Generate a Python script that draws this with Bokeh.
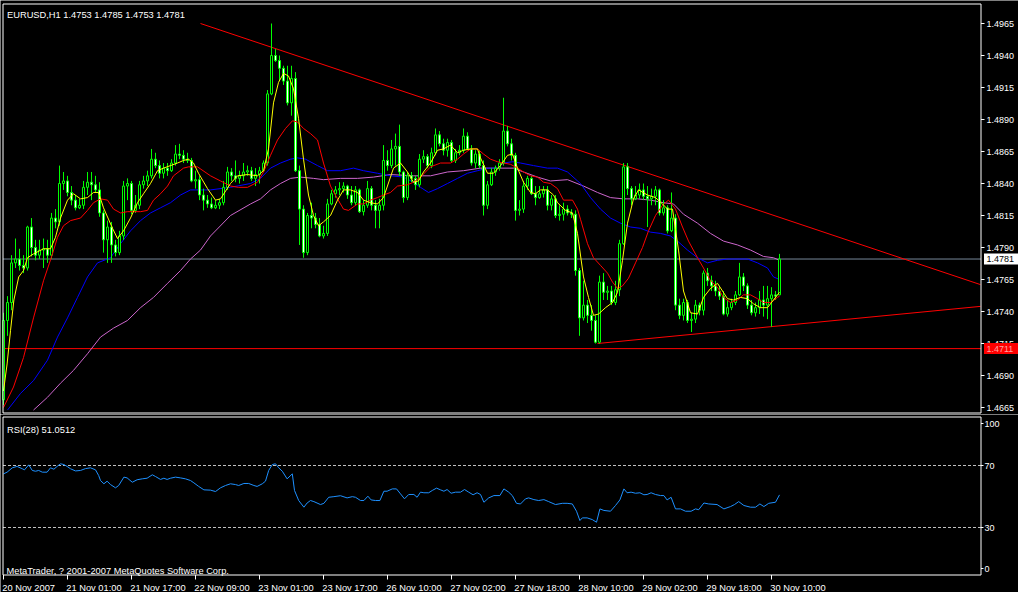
from bokeh.plotting import figure
from bokeh.models import Range1d, ColumnDataSource
from bokeh.core.properties import value
from bokeh.layouts import column
from bokeh.embed import file_html
from bokeh.resources import INLINE

# ---------------- data ----------------
symbol_title = "EURUSD,H1  1.4753 1.4785 1.4753 1.4781"
rsi_title = "RSI(28) 51.0512"
copyright_text = "MetaTrader, ? 2001-2007 MetaQuotes Software Corp."

opens = [
    1.4671, 1.4733, 1.4747, 1.4778, 1.4781, 1.4776, 1.4774, 1.4806, 1.4790, 1.4784,
    1.4788, 1.4789, 1.4784, 1.4813, 1.4810, 1.4840, 1.4842, 1.4833, 1.4827, 1.4821,
    1.4823, 1.4837, 1.4841, 1.4839, 1.4835, 1.4817, 1.4796, 1.4806, 1.4792, 1.4786,
    1.4799, 1.4838, 1.4840, 1.4819, 1.4823, 1.4839, 1.4842, 1.4846, 1.4859, 1.4854,
    1.4848, 1.4852, 1.4850, 1.4856, 1.4863, 1.4862, 1.4859, 1.4858, 1.4842, 1.4843,
    1.4831, 1.4827, 1.4824, 1.4821, 1.4823, 1.4825, 1.4837, 1.4849, 1.4846, 1.4844,
    1.4846, 1.4849, 1.4850, 1.4844, 1.4847, 1.4850, 1.4856, 1.4910, 1.4940, 1.4936,
    1.4930, 1.4920, 1.4903, 1.4922, 1.4850, 1.4820, 1.4786, 1.4815, 1.4813, 1.4808,
    1.4799, 1.4801, 1.4824, 1.4832, 1.4835, 1.4836, 1.4838, 1.4831, 1.4825, 1.4835,
    1.4818, 1.4823, 1.4836, 1.4823, 1.4819, 1.4823, 1.4858, 1.4854, 1.4867, 1.4869,
    1.4849, 1.4829, 1.4846, 1.4844, 1.4839, 1.4859, 1.4861, 1.4854, 1.4864, 1.4878,
    1.4871, 1.4866, 1.4872, 1.4858, 1.4864, 1.4866, 1.4877, 1.4867, 1.4856, 1.4863,
    1.4854, 1.4823, 1.4839, 1.4849, 1.4852, 1.4856, 1.4881, 1.4871, 1.4862, 1.4819,
    1.4820, 1.4838, 1.4844, 1.4832, 1.4829, 1.4832, 1.4835, 1.4823, 1.4828, 1.4815,
    1.4816, 1.4820, 1.4817, 1.4816, 1.4772, 1.4735, 1.4745, 1.4737, 1.4733, 1.4716,
    1.4763, 1.4755, 1.4756, 1.4747, 1.4757, 1.4793, 1.4853, 1.4836, 1.4828, 1.4831,
    1.4835, 1.4830, 1.4828, 1.4830, 1.4835, 1.4817, 1.4821, 1.4803, 1.4813, 1.4745,
    1.4737, 1.4747, 1.4733, 1.4734, 1.4745, 1.4741, 1.4770, 1.4764, 1.4760, 1.4756,
    1.4752, 1.4738, 1.4743, 1.4747, 1.4753, 1.4767, 1.4760, 1.4745, 1.4739, 1.4743,
    1.4749, 1.4745, 1.4750, 1.4753, 1.4753]

highs = [
    1.4739, 1.4752, 1.4784, 1.4797, 1.4789, 1.4784, 1.4807, 1.4813, 1.4796, 1.4796,
    1.4797, 1.4796, 1.4817, 1.4820, 1.4854, 1.4849, 1.4846, 1.4838, 1.4831, 1.4828,
    1.4842, 1.4849, 1.4849, 1.4846, 1.4841, 1.4819, 1.4811, 1.4810, 1.4796, 1.4803,
    1.4842, 1.4844, 1.4842, 1.4831, 1.4842, 1.4846, 1.4850, 1.4867, 1.4864, 1.4858,
    1.4856, 1.4856, 1.4859, 1.4870, 1.4871, 1.4866, 1.4864, 1.4860, 1.4850, 1.4846,
    1.4836, 1.4831, 1.4829, 1.4827, 1.4828, 1.4842, 1.4853, 1.4852, 1.4858, 1.4850,
    1.4856, 1.4854, 1.4853, 1.4852, 1.4853, 1.4858, 1.4913, 1.4965, 1.4945, 1.4940,
    1.4932, 1.4932, 1.4932, 1.4927, 1.4854, 1.4823, 1.4817, 1.4825, 1.4817, 1.4813,
    1.4807, 1.4828, 1.4835, 1.4838, 1.4841, 1.4841, 1.4839, 1.4838, 1.4838, 1.4836,
    1.4827, 1.4842, 1.4838, 1.4827, 1.4828, 1.4870, 1.4866, 1.4874, 1.4879, 1.4886,
    1.4850, 1.4849, 1.4849, 1.4846, 1.4863, 1.4866, 1.4863, 1.4868, 1.4883, 1.4881,
    1.4875, 1.4875, 1.4874, 1.4867, 1.4870, 1.4883, 1.4880, 1.4870, 1.4866, 1.4866,
    1.4858, 1.4842, 1.4852, 1.4854, 1.4859, 1.4907, 1.4885, 1.4875, 1.4864, 1.4827,
    1.4842, 1.4846, 1.4846, 1.4838, 1.4838, 1.4838, 1.4838, 1.4831, 1.4831, 1.4823,
    1.4825, 1.4823, 1.4820, 1.4819, 1.4774, 1.4764, 1.4749, 1.4745, 1.4737, 1.4768,
    1.4770, 1.4760, 1.4760, 1.4764, 1.4796, 1.4856, 1.4856, 1.4838, 1.4838, 1.4840,
    1.4840, 1.4838, 1.4836, 1.4838, 1.4836, 1.4827, 1.4823, 1.4833, 1.4816, 1.4750,
    1.4750, 1.4749, 1.4739, 1.4749, 1.4747, 1.4772, 1.4774, 1.4768, 1.4764, 1.4760,
    1.4756, 1.4749, 1.4750, 1.4756, 1.4778, 1.4770, 1.4762, 1.4749, 1.4747, 1.4756,
    1.4760, 1.4760, 1.4759, 1.4756, 1.4785]

lows = [
    1.4667, 1.4721, 1.4741, 1.4774, 1.4772, 1.4770, 1.4772, 1.4783, 1.4780, 1.4781,
    1.4774, 1.4778, 1.4781, 1.4805, 1.4807, 1.4835, 1.4830, 1.4823, 1.4819, 1.4820,
    1.4820, 1.4831, 1.4827, 1.4833, 1.4814, 1.4786, 1.4778, 1.4778, 1.4783, 1.4784,
    1.4796, 1.4827, 1.4816, 1.4817, 1.4820, 1.4836, 1.4838, 1.4844, 1.4852, 1.4844,
    1.4844, 1.4846, 1.4849, 1.4854, 1.4859, 1.4856, 1.4856, 1.4841, 1.4836, 1.4827,
    1.4819, 1.4821, 1.4820, 1.4820, 1.4820, 1.4823, 1.4835, 1.4842, 1.4841, 1.4840,
    1.4842, 1.4846, 1.4842, 1.4838, 1.4840, 1.4849, 1.4854, 1.4909, 1.4935, 1.4920,
    1.4917, 1.4901, 1.4893, 1.4849, 1.4792, 1.4782, 1.4784, 1.4805, 1.4805, 1.4798,
    1.4797, 1.4799, 1.4823, 1.4829, 1.4831, 1.4833, 1.4828, 1.4823, 1.4823, 1.4817,
    1.4815, 1.4821, 1.4819, 1.4805, 1.4805, 1.4819, 1.4850, 1.4852, 1.4854, 1.4846,
    1.4825, 1.4827, 1.4841, 1.4835, 1.4837, 1.4856, 1.4852, 1.4852, 1.4862, 1.4869,
    1.4862, 1.4861, 1.4856, 1.4856, 1.4862, 1.4864, 1.4866, 1.4854, 1.4852, 1.4852,
    1.4815, 1.4820, 1.4838, 1.4846, 1.4850, 1.4854, 1.4869, 1.4858, 1.4811, 1.4815,
    1.4817, 1.4835, 1.4831, 1.4823, 1.4828, 1.4829, 1.4819, 1.4819, 1.4813, 1.4811,
    1.4811, 1.4815, 1.4813, 1.4768, 1.4721, 1.4733, 1.4731, 1.4725, 1.4715, 1.4715,
    1.4749, 1.4749, 1.4745, 1.4745, 1.4752, 1.4792, 1.4831, 1.4823, 1.4827, 1.4828,
    1.4827, 1.4806, 1.4823, 1.4823, 1.4815, 1.4815, 1.4801, 1.4802, 1.4741, 1.4734,
    1.4733, 1.4731, 1.4724, 1.4731, 1.4737, 1.4737, 1.4760, 1.4756, 1.4752, 1.4749,
    1.4737, 1.4736, 1.4741, 1.4745, 1.4752, 1.4756, 1.4742, 1.4737, 1.4736, 1.4738,
    1.4736, 1.4734, 1.4728, 1.4749, 1.4753]

closes = [
    1.4733, 1.4747, 1.4778, 1.4781, 1.4776, 1.4774, 1.4806, 1.4790, 1.4784, 1.4788,
    1.4789, 1.4784, 1.4813, 1.4810, 1.4840, 1.4842, 1.4833, 1.4827, 1.4821, 1.4823,
    1.4837, 1.4841, 1.4839, 1.4835, 1.4817, 1.4796, 1.4806, 1.4792, 1.4786, 1.4799,
    1.4838, 1.4840, 1.4819, 1.4823, 1.4839, 1.4842, 1.4846, 1.4859, 1.4854, 1.4848,
    1.4852, 1.4850, 1.4856, 1.4863, 1.4862, 1.4859, 1.4858, 1.4842, 1.4843, 1.4831,
    1.4827, 1.4824, 1.4821, 1.4823, 1.4825, 1.4837, 1.4849, 1.4846, 1.4844, 1.4846,
    1.4849, 1.4850, 1.4844, 1.4847, 1.4850, 1.4856, 1.4910, 1.4940, 1.4936, 1.4930,
    1.4920, 1.4903, 1.4922, 1.4850, 1.4820, 1.4786, 1.4815, 1.4813, 1.4808, 1.4799,
    1.4801, 1.4824, 1.4832, 1.4835, 1.4836, 1.4838, 1.4831, 1.4825, 1.4835, 1.4818,
    1.4823, 1.4836, 1.4823, 1.4819, 1.4823, 1.4858, 1.4854, 1.4867, 1.4869, 1.4849,
    1.4829, 1.4846, 1.4844, 1.4839, 1.4859, 1.4861, 1.4854, 1.4864, 1.4878, 1.4871,
    1.4866, 1.4872, 1.4858, 1.4864, 1.4866, 1.4877, 1.4867, 1.4856, 1.4863, 1.4854,
    1.4823, 1.4839, 1.4849, 1.4852, 1.4856, 1.4881, 1.4871, 1.4862, 1.4819, 1.4820,
    1.4838, 1.4844, 1.4832, 1.4829, 1.4832, 1.4835, 1.4823, 1.4828, 1.4815, 1.4816,
    1.4820, 1.4817, 1.4816, 1.4772, 1.4735, 1.4745, 1.4737, 1.4733, 1.4716, 1.4763,
    1.4755, 1.4756, 1.4747, 1.4757, 1.4793, 1.4853, 1.4836, 1.4828, 1.4831, 1.4835,
    1.4830, 1.4828, 1.4830, 1.4835, 1.4817, 1.4821, 1.4803, 1.4813, 1.4745, 1.4737,
    1.4747, 1.4733, 1.4734, 1.4745, 1.4741, 1.4770, 1.4764, 1.4760, 1.4756, 1.4752,
    1.4738, 1.4743, 1.4747, 1.4753, 1.4767, 1.4760, 1.4745, 1.4739, 1.4743, 1.4749,
    1.4745, 1.4750, 1.4753, 1.4752, 1.4781]

# moving averages (bar index, price)
ma_yellow_x = [0, 0.9, 1.75, 2.6, 3.8, 5, 6, 7.5, 10, 11.75, 13, 14.25, 16, 17.5, 19.25, 21, 22.5, 23.75, 25,
               27.25, 28.5, 30, 31.75, 33.5, 35, 36.75, 38.5, 40, 41.75, 43.5, 45, 46.25, 47.5, 48.75, 51, 53,
               54.25, 56.75, 58.5, 61, 63.5, 65, 66.25, 67.5, 68.75, 70, 71.25, 72.5, 73.75, 75, 76.25, 77.5,
               78.75, 80, 81.75, 83.5, 85, 86.75, 88.5, 90, 91.75, 93.5, 95, 97.5, 99.25, 101, 102.5, 103.75,
               105, 106.75, 108.5, 110, 111.75, 113.5, 115, 116.75, 118.5, 119.25, 121, 122.5, 124.25, 126,
               127.25, 128.5, 130, 131.75, 133, 134.25, 136, 137.5, 138.5, 140.5, 142.25, 143.5, 145, 146.25,
               147.5, 148.75, 150.5, 152.25, 153.5, 154.75, 156, 157.5, 158.75, 161, 163, 164.75, 166, 167.25,
               168.75, 170, 171.75, 173.5, 175, 176.75, 178.5, 179.75, 181, 182.5, 184.25, 186, 187.5, 189.25,
               191, 192.5, 194]
ma_yellow_y = [1.4678, 1.4699, 1.4725, 1.4749, 1.4767, 1.4772, 1.4782, 1.4785, 1.4789, 1.4789, 1.4798, 1.4813,
               1.4827, 1.4832, 1.4828, 1.4829, 1.4833, 1.4833, 1.4821, 1.4805, 1.4797, 1.4803, 1.4813, 1.4825,
               1.4832, 1.4840, 1.4850, 1.4852, 1.4854, 1.4856, 1.4858, 1.4859, 1.4856, 1.4848, 1.4836, 1.4827,
               1.4828, 1.4840, 1.4846, 1.4847, 1.4846, 1.4850, 1.4867, 1.4903, 1.4919, 1.4926, 1.4924, 1.4914,
               1.4891, 1.4859, 1.4831, 1.4815, 1.4807, 1.4810, 1.4815, 1.4827, 1.4835, 1.4835, 1.4833, 1.4827,
               1.4825, 1.4824, 1.4829, 1.4852, 1.4856, 1.4849, 1.4841, 1.4842, 1.4849, 1.4856, 1.4866, 1.4867,
               1.4870, 1.4864, 1.4866, 1.4867, 1.4867, 1.4860, 1.4848, 1.4848, 1.4854, 1.4862, 1.4863, 1.4852,
               1.4841, 1.4833, 1.4832, 1.4835, 1.4835, 1.4831, 1.4825, 1.4819, 1.4817, 1.4801, 1.4767, 1.4751,
               1.4737, 1.4738, 1.4743, 1.4747, 1.4755, 1.4780, 1.4809, 1.4828, 1.4835, 1.4831, 1.4829, 1.4824,
               1.4820, 1.4820, 1.4788, 1.4756, 1.4739, 1.4738, 1.4751, 1.4758, 1.4762, 1.4756, 1.4750, 1.4749,
               1.4751, 1.4750, 1.4746, 1.4743, 1.4743, 1.4749, 1.4755]

ma_red_x = [0, 2.5, 5, 7.5, 10, 12.25, 13.5, 15, 16.75, 19.25, 21, 22.5, 24.25, 26, 27.5, 29.25, 31, 34.25, 36,
            37.5, 39.25, 41, 42.5, 45, 46.25, 48.5, 51.75, 54.25, 56.75, 58.75, 61, 63.5, 65, 66.75, 68.5, 70.5,
            72.25, 73.5, 75, 76.75, 78.5, 80, 81.75, 83.5, 85, 86.25, 88.5, 90, 91.75, 93.5, 95, 96.75, 98.5, 101,
            102.5, 104.25, 106.75, 109.25, 111.75, 113.5, 115, 116.75, 118.5, 120, 121.75, 123.5, 125, 126.75,
            128.5, 130, 131.75, 133.5, 135, 136.75, 138.5, 140, 142.25, 143.5, 144.25, 146, 147.5, 149.25, 151,
            152.25, 153.5, 154.75, 156.25, 158, 159.75, 161.25, 163, 164.75, 166.25, 168, 169.75, 171.25, 173.5,
            175, 176.75, 178.5, 180, 181.75, 183.5, 185, 186.75, 188.5, 190, 191.75, 193.5, 194]
ma_red_y = [1.4665, 1.4681, 1.4704, 1.4735, 1.4764, 1.4785, 1.4798, 1.4807, 1.4811, 1.4813, 1.4819, 1.4825,
            1.4828, 1.4827, 1.4820, 1.4817, 1.4818, 1.4818, 1.4819, 1.4827, 1.4832, 1.4838, 1.4846, 1.4852,
            1.4853, 1.4853, 1.4846, 1.4842, 1.4838, 1.4837, 1.4837, 1.4841, 1.4849, 1.4862, 1.4874, 1.4883,
            1.4889, 1.4888, 1.4883, 1.4879, 1.4874, 1.4856, 1.4838, 1.4828, 1.4820, 1.4819, 1.4824, 1.4824,
            1.4827, 1.4829, 1.4831, 1.4833, 1.4838, 1.4839, 1.4841, 1.4845, 1.4853, 1.4856, 1.4856, 1.4859,
            1.4863, 1.4867, 1.4867, 1.4863, 1.4859, 1.4857, 1.4856, 1.4855, 1.4852, 1.4849, 1.4846, 1.4845,
            1.4841, 1.4840, 1.4836, 1.4827, 1.4827, 1.4820, 1.4812, 1.4793, 1.4782, 1.4776, 1.4770, 1.4763,
            1.4758, 1.4760, 1.4766, 1.4778, 1.4790, 1.4803, 1.4815, 1.4823, 1.4827, 1.4820, 1.4806, 1.4795,
            1.4782, 1.4774, 1.4764, 1.4759, 1.4751, 1.4747, 1.4749, 1.4753, 1.4753, 1.4750, 1.4747, 1.4747,
            1.4751, 1.4752]

ma_blue_x = [1, 4.25, 7.5, 11, 13.5, 16, 18.5, 21, 23.5, 26.75, 29.25, 31.75, 34.25, 36.75, 39.25, 41.75, 44.25,
             46.75, 49.25, 51.75, 56.75, 61.75, 64.25, 66.75, 69.25, 71.75, 73.5, 75.5, 78.5, 81, 84.25, 87.5, 90,
             93.5, 96.75, 100, 102.5, 104.25, 106.25, 108.5, 111, 113.5, 116, 118.5, 121, 123.5, 125, 127.25,
             129.25, 132.5, 136, 138.5, 141, 143.5, 144.25, 146.75, 149.25, 151.75, 154.25, 156.75, 159.25,
             161.75, 164.25, 166.75, 168.5, 171, 173.5, 176, 178.5, 181, 183.5, 186, 188.5, 191, 192.5, 194]
ma_blue_y = [1.4663, 1.4676, 1.4686, 1.4702, 1.4720, 1.4735, 1.4751, 1.4767, 1.4778, 1.4782, 1.4793, 1.4803,
             1.4811, 1.4817, 1.4821, 1.4825, 1.4831, 1.4835, 1.4835, 1.4835, 1.4837, 1.4840, 1.4844, 1.4852,
             1.4856, 1.4859, 1.4860, 1.4859, 1.4854, 1.4850, 1.4850, 1.4852, 1.4850, 1.4848, 1.4846, 1.4845,
             1.4841, 1.4837, 1.4833, 1.4836, 1.4840, 1.4844, 1.4848, 1.4850, 1.4852, 1.4852, 1.4856, 1.4857,
             1.4856, 1.4854, 1.4852, 1.4852, 1.4849, 1.4842, 1.4840, 1.4829, 1.4820, 1.4813, 1.4809, 1.4806,
             1.4805, 1.4802, 1.4801, 1.4799, 1.4795, 1.4788, 1.4782, 1.4778, 1.4780, 1.4781, 1.4781, 1.4781,
             1.4778, 1.4774, 1.4767, 1.4765]

ma_violet_x = [7.5, 11, 14.25, 17.5, 21, 24.25, 27.5, 31, 34.25, 37.5, 41, 44.25, 46.75, 49.25, 51.75, 56.75,
               61.75, 64.25, 66.75, 69.25, 71.75, 74.25, 77.5, 80, 84.25, 88.5, 92.5, 96.75, 102.5, 106.75, 111,
               115, 119.25, 123.5, 127.5, 130, 133.5, 136.75, 141, 145, 148.5, 151.75, 155, 158.5, 161.75, 165,
               167.5, 170, 173.5, 176.75, 180, 183.5, 186.75, 190, 192.5, 194]
ma_violet_y = [1.4663, 1.4673, 1.4684, 1.4694, 1.4707, 1.4720, 1.4727, 1.4733, 1.4743, 1.4751, 1.4762, 1.4772,
               1.4781, 1.4788, 1.4799, 1.4815, 1.4824, 1.4828, 1.4835, 1.4840, 1.4844, 1.4845, 1.4844, 1.4843,
               1.4844, 1.4844, 1.4845, 1.4847, 1.4846, 1.4846, 1.4849, 1.4850, 1.4852, 1.4852, 1.4852, 1.4849,
               1.4845, 1.4842, 1.4843, 1.4838, 1.4833, 1.4829, 1.4828, 1.4828, 1.4827, 1.4825, 1.4824, 1.4816,
               1.4809, 1.4801, 1.4795, 1.4792, 1.4788, 1.4783, 1.4782, 1.4780]

rsi_x = [0, 0.9, 2.2, 3.4, 4.7, 5.25, 6.3, 7.2, 8, 8.8, 9.7, 10.9, 11.75, 12.6, 13.4, 14.25, 15.1, 15.9, 16.75,
         18, 19.25, 20.5, 21.75, 23, 23.8, 24.25, 25.1, 25.9, 26.75, 28, 28.8, 30.1, 30.9, 32.2, 33.4, 34.7,
         35.9, 37.2, 38, 39.25, 40.1, 40.9, 41.75, 43, 44.25, 45.5, 46.75, 47.6, 48.8, 50.1, 51.75, 53, 54.25,
         55.5, 56.75, 58, 58.8, 60.1, 61.3, 62.6, 63.4, 64.7, 65.5, 66.3, 67.2, 68, 68.8, 69.7, 70.9, 72.2,
         72.75, 73.8, 75.1, 75.9, 76.75, 77.6, 79.25, 80.1, 81.3, 82.6, 84.25, 85.9, 87.2, 88, 89.25, 90.1,
         91.1, 91.9, 93, 94.1, 95.1, 95.9, 97.2, 98.25, 99.25, 100.25, 101.3, 102.6, 103.4, 104.25, 105.1,
         106.3, 107.2, 108.25, 109.25, 110.1, 110.9, 111.9, 113, 114.25, 115.25, 116.3, 117.4, 118.4, 119.25,
         120.1, 121.3, 122.6, 124.1, 125.1, 126.3, 127.2, 128.25, 129.25, 130.5, 131.3, 132.6, 133.8, 135.1,
         136.3, 138, 139.7, 140.9, 142.2, 143.25, 144.1, 144.7, 145.9, 147.2, 148.25, 149.1, 150.1, 151.75,
         153, 154.1, 155.1, 155.9, 156.9, 158, 159.1, 160.1, 160.9, 161.9, 163, 164.25, 165.1, 165.9, 166.9,
         168, 169.25, 170.5, 171.9, 173, 173.8, 175.1, 176.3, 178.4, 180.1, 181.75, 182.75, 183.8, 185.1,
         186.75, 188, 189.1, 190.1, 191.3, 193, 194]
rsi_y = [64.6, 65.7, 68.5, 69.4, 67.9, 67.2, 70.4, 66.8, 66.3, 66.8, 65.7, 65.7, 68.5, 67.6, 69.4, 71.1, 70.6,
         69.4, 67.9, 66.5, 66.8, 68.0, 68.5, 67.2, 63.5, 60.3, 58.2, 59.9, 57.7, 55.6, 57.1, 62.5, 62.0, 59.2,
         60.8, 61.4, 61.8, 64.0, 62.9, 61.0, 61.8, 61.0, 61.8, 62.5, 62.0, 61.4, 60.3, 58.8, 56.5, 54.3, 54.1,
         53.2, 55.6, 57.1, 58.2, 57.7, 57.1, 58.4, 58.4, 57.1, 56.5, 58.2, 59.9, 66.8, 70.6, 71.1, 68.5, 66.3,
         61.4, 64.6, 53.9, 47.4, 43.1, 45.8, 47.4, 46.7, 44.8, 45.6, 49.5, 49.9, 50.5, 49.1, 49.9, 49.5, 47.4,
         47.4, 50.2, 47.8, 47.4, 47.4, 53.4, 53.4, 54.9, 54.9, 51.7, 48.5, 51.3, 51.3, 49.5, 52.8, 52.4, 52.4,
         53.9, 55.4, 54.3, 53.4, 54.5, 52.1, 52.8, 52.8, 54.5, 52.8, 51.1, 52.4, 51.3, 46.3, 49.1, 50.6, 50.6,
         54.9, 52.8, 50.6, 45.6, 45.2, 48.5, 49.1, 48.0, 47.4, 48.0, 46.7, 44.8, 45.6, 45.6, 45.2, 40.5, 34.5,
         36.2, 36.2, 35.1, 33.4, 42.0, 41.0, 40.5, 44.2, 47.8, 54.9, 52.4, 52.8, 52.1, 52.4, 51.1, 51.3, 52.4,
         51.3, 50.6, 50.6, 47.8, 49.5, 42.0, 42.0, 40.5, 40.5, 42.0, 41.5, 45.8, 45.2, 44.8, 42.0, 43.5, 44.8,
         46.7, 44.2, 43.1, 43.1, 45.2, 43.5, 45.6, 46.3, 51.05]

price_ticks = [1.4665, 1.4690, 1.4715, 1.4740, 1.4765, 1.4790, 1.4815, 1.4840, 1.4865, 1.4890, 1.4915,
               1.4940, 1.4965]
rsi_ticks = [100, 70, 30, 0]
rsi_levels = [70, 30]
time_tick_bars = [0, 16, 32, 48, 64, 80, 96, 112, 128, 144, 160, 176, 192]
time_tick_labels = ["20 Nov 2007", "21 Nov 01:00", "21 Nov 17:00", "22 Nov 09:00", "23 Nov 01:00",
                    "23 Nov 17:00", "26 Nov 10:00", "27 Nov 02:00", "27 Nov 18:00", "28 Nov 10:00",
                    "29 Nov 02:00", "29 Nov 18:00", "30 Nov 10:00"]

# drawn objects (bar index, price)
trend_upper = ([49.25, 244.25], [1.4965, 1.4761])
trend_lower = ([148.5, 244.25], [1.4715, 1.4744])
support_level = 1.4711
bid_level = 1.4781

# ---------------- layout helpers (pixel -> data) ----------------
W, H1, H2 = 1018, 414, 178
def xi(px):   # horizontal pixel -> bar index
    return (px - 3) / 4.0
def yp(py):   # vertical pixel -> price (main panel)
    return 1.4965 - (py - 23) / 12800.0
def yr(py):   # vertical pixel -> RSI value (indicator panel)
    return (573.5 - py) / 1.55

FONT = value("Liberation Sans")
FS = value("9.3px")
FS_NUM = value("9px")
WHITE = "white"
xr = Range1d(xi(0), xi(W))

def base_fig(h, yrange):
    f = figure(width=W, height=h, x_range=xr, y_range=yrange, output_backend="svg",
               toolbar_location=None, x_axis_location=None, y_axis_location=None,
               min_border=0, min_border_left=0, min_border_right=0, min_border_top=0,
               min_border_bottom=0, background_fill_color="black", border_fill_color="black",
               outline_line_color=None)
    f.grid.visible = False
    return f

def frame(f, conv, x0, x1, y0, y1):
    f.segment(x0=[xi(x0), xi(x0), xi(x0), xi(x1)], y0=[conv(y0), conv(y1), conv(y0), conv(y0)],
              x1=[xi(x1), xi(x1), xi(x0), xi(x1)], y1=[conv(y0), conv(y1), conv(y1), conv(y1)],
              line_color=WHITE, line_width=1)

# ---------------- main panel ----------------
p = base_fig(H1, Range1d(yp(H1), yp(0)))

n = min(len(opens), len(highs), len(lows), len(closes))
bull = [closes[k] >= opens[k] for k in range(n)]
src = ColumnDataSource(dict(
    i=list(range(n)), h=highs[:n], l=lows[:n],
    top=[max(opens[k], closes[k]) for k in range(n)],
    bot=[min(opens[k], closes[k]) for k in range(n)],
    fill=["black" if b else "white" for b in bull],
))

xl, xrgt = xi(2.5), xi(980.5)
p.line([xl, xrgt], [bid_level, bid_level], line_color="#778899", line_width=1)
p.line([xl, xrgt], [support_level, support_level], line_color="#FF0000", line_width=1)
p.line(trend_upper[0], trend_upper[1], line_color="#FF0000", line_width=1)
p.line(trend_lower[0], trend_lower[1], line_color="#FF0000", line_width=1)

p.line(ma_violet_x, ma_violet_y, line_color="#CC66CC", line_width=1)
p.line(ma_blue_x, ma_blue_y, line_color="#0000FF", line_width=1)

p.segment(x0="i", y0="l", x1="i", y1="h", source=src, line_color="#00FF00", line_width=1)
p.vbar(x="i", width=0.5, top="top", bottom="bot", source=src, fill_color="fill",
       line_color="#00FF00", line_width=1)

p.line(ma_red_x, ma_red_y, line_color="#FF0000", line_width=1)
p.line(ma_yellow_x, ma_yellow_y, line_color="#FFFF00", line_width=1)

frame(p, yp, 2.5, 980.5, 3.5, 412.5)

# price scale
p.segment(x0=[xi(980.5)] * len(price_ticks), y0=price_ticks, x1=[xi(984)] * len(price_ticks),
          y1=price_ticks, line_color=WHITE, line_width=1)
p.text(x=[xi(986)] * len(price_ticks), y=price_ticks, text=["%.4f" % t for t in price_ticks],
       text_color=WHITE, text_font=FONT, text_font_size=FS_NUM, text_baseline="middle",
       text_align="left")

# price tags
p.rect(x=[xi(1000.5), xi(1000.5)], y=[bid_level, support_level], width=34, height=11,
       width_units="screen", height_units="screen", fill_color=["white", "#FF0000"],
       line_color=None)
p.text(x=[xi(986)], y=[bid_level], text=["%.4f" % bid_level], text_color="black",
       text_font=FONT, text_font_size=FS_NUM, text_baseline="middle", text_align="left")
p.text(x=[xi(986)], y=[support_level], text=["%.4f" % support_level], text_color="#FFA0A0",
       text_font=FONT, text_font_size=FS_NUM, text_baseline="middle", text_align="left")

p.text(x=[xi(6.5)], y=[yp(14)], text=[symbol_title], text_color=WHITE, text_font=FONT,
       text_font_size=FS, text_baseline="alphabetic", text_align="left")

# ---------------- RSI panel ----------------
r = base_fig(H2, Range1d(yr(H1 + H2), yr(H1)))

for lv in rsi_levels:
    r.line([xl, xrgt], [lv, lv], line_color="#C0C0C0", line_width=1, line_dash="3 2")
r.line(rsi_x, rsi_y, line_color="#1E90FF", line_width=1)

frame(r, yr, 2.5, 980.5, 416.5, 574.5)

# RSI scale (top and bottom labels are pulled inside the window as MetaTrader does)
rsi_label_y = [yr(423), 70, 30, yr(568)]
r.segment(x0=[xi(980.5)] * 4, y0=rsi_label_y, x1=[xi(983)] * 4, y1=rsi_label_y,
          line_color=WHITE, line_width=1)
r.text(x=[xi(984)] * 4, y=rsi_label_y, text=[str(t) for t in rsi_ticks], text_color=WHITE,
       text_font=FONT, text_font_size=FS_NUM, text_baseline="middle", text_align="left")

# time scale
r.segment(x0=time_tick_bars, y0=[yr(574.5)] * len(time_tick_bars), x1=time_tick_bars,
          y1=[yr(579)] * len(time_tick_bars), line_color=WHITE, line_width=1)
r.text(x=[t - 0.3 for t in time_tick_bars], y=[yr(587)] * len(time_tick_bars),
       text=time_tick_labels, text_color=WHITE, text_font=FONT, text_font_size=FS,
       text_baseline="alphabetic", text_align="left")

r.text(x=[xi(6.5)], y=[yr(429.5)], text=[rsi_title], text_color=WHITE, text_font=FONT,
       text_font_size=FS, text_baseline="alphabetic", text_align="left")
r.text(x=[xi(6)], y=[yr(570)], text=[copyright_text], text_color=WHITE, text_font=FONT,
       text_font_size=FS, text_baseline="alphabetic", text_align="left")

layout = column(p, r)
open("out.html", "w").write(file_html(layout, INLINE))
